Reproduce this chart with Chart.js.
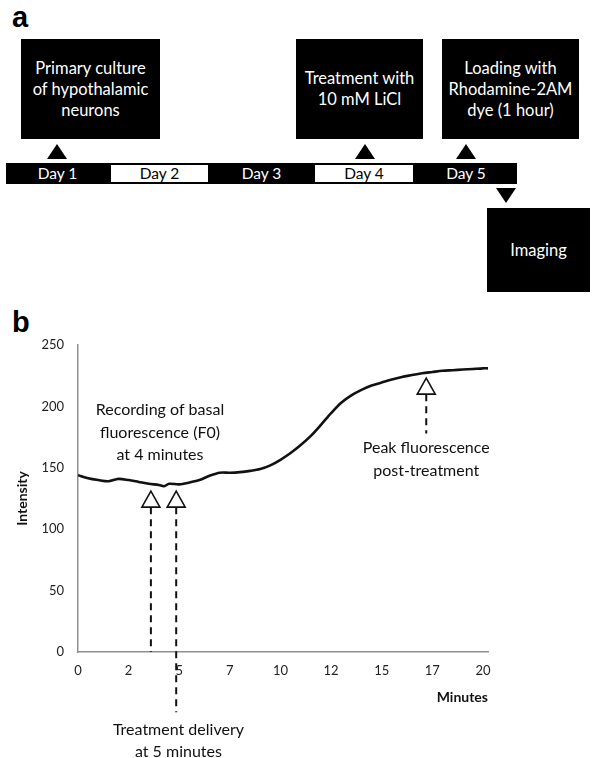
<!DOCTYPE html>
<html lang="en">
<head>
    <meta charset="UTF-8">
    <title>Timeline and fluorescence intensity</title>
    <script src="https://cdn.jsdelivr.net/npm/chart.js"></script>
    <style>
        body {
            margin: 0;
            width: 600px;
            height: 758px;
            background: #fff;
            position: relative;
            overflow: hidden;
            font-family: Lato, "Open Sans", sans-serif;
        }
        .panel-label {
            position: absolute;
            font: bold 29px "Liberation Sans", Arial, sans-serif;
            line-height: 1;
            color: #000;
        }
        .box {
            position: absolute;
            background: #000;
            color: #fff;
            display: flex;
            align-items: center;
            justify-content: center;
            text-align: center;
            font-size: 16.5px;
            line-height: 21px;
        }
        .tri-up, .tri-down {
            position: absolute;
            width: 0;
            height: 0;
            border-left: 10.5px solid transparent;
            border-right: 10.5px solid transparent;
        }
        .tri-up { border-bottom: 15px solid #000; }
        .tri-down { border-top: 15px solid #000; }
        .day {
            position: absolute;
            top: 163px;
            height: 21px;
            box-sizing: border-box;
            font-size: 15.5px;
            line-height: 21px;
            text-align: center;
        }
        .day.dark { background: #000; color: #fff; }
        .day.light { background: #fff; color: #000; border: 2px solid #000; line-height: 17px; }
        #chartWrap {
            position: absolute;
            left: 0;
            top: 300px;
            width: 600px;
            height: 458px;
        }
    </style>
</head>
<body>
    <!-- panel a: culture timeline -->
    <div class="panel-label" style="left:12px;top:3px">a</div>

    <div class="box" style="left:21px;top:39px;width:139px;height:100px">Primary culture<br>of hypothalamic<br>neurons</div>
    <div class="box" style="left:296px;top:39px;width:127px;height:100px">Treatment with<br>10 mM LiCl</div>
    <div class="box" style="left:442px;top:39px;width:137px;height:100px">Loading with<br>Rhodamine-2AM<br>dye (1 hour)</div>
    <div class="box" style="left:487px;top:208px;width:103px;height:84px">Imaging</div>

    <div class="tri-up" style="left:47px;top:144px"></div>
    <div class="tri-up" style="left:355px;top:144px"></div>
    <div class="tri-up" style="left:456px;top:144px"></div>
    <div class="tri-down" style="left:496px;top:188px"></div>

    <div id="days"></div>

    <div class="panel-label" style="left:12px;top:308px">b</div>

    <!-- panel b: intensity trace -->
    <div id="chartWrap">
        <canvas id="traceChart" width="600" height="458"></canvas>
    </div>

    <script>
        // timeline
        const days = ['Day 1', 'Day 2', 'Day 3', 'Day 4', 'Day 5'];
        const dayEdges = [6, 109, 210, 313, 415, 517];

        // trace: minutes vs intensity
        const minutes = [0, 0.5, 1, 1.5, 2, 2.5, 3, 3.5, 4, 4.25, 4.5, 5, 5.5, 6, 6.5, 7, 7.5, 8, 8.5, 9, 9.5,
            10, 10.5, 11, 11.5, 12, 12.5, 13, 13.5, 14, 14.5, 15, 15.5, 16, 16.5, 17, 17.5, 18, 18.5, 19, 19.5, 20, 20.25];
        const intensity = [144, 141.5, 140, 139, 141, 140, 138.5, 137, 136, 135, 137, 136.5, 138, 140, 143.5, 146, 146, 146.5, 147.5, 149, 152,
            156.5, 162, 168.5, 176, 185, 194.5, 203, 209, 213.5, 217, 219.5, 222, 224, 225.5, 227, 228, 229, 229.5, 230, 230.5, 231, 231];

        const xTickValues = [0, 2.5, 5, 7.5, 10, 12.5, 15, 17.5, 20];
        const xTickLabels = ['0', '2', '5', '7', '10', '12', '15', '17', '20'];

        // open arrows: position (minutes), tip (intensity), end of dashed stem (intensity)
        const arrowAt = [3.6, 4.85, 17.2];
        const arrowTip = [131, 131, 223];
        const arrowStemEnd = [0, -49, 178];

        // annotation texts, anchored in data units (centre of first line)
        const noteText = [
            ['Recording of basal', 'fluorescence (F0)', 'at 4 minutes'],
            ['Treatment delivery', 'at 5 minutes'],
            ['Peak fluorescence', 'post-treatment']
        ];
        const noteX = [4.05, 4.96, 17.2];
        const noteY = [197, -63, 166];

        const daysEl = document.getElementById('days');
        days.forEach((d, i) => {
            const el = document.createElement('div');
            el.className = 'day ' + (i % 2 === 0 ? 'dark' : 'light');
            el.style.left = dayEdges[i] + 'px';
            el.style.width = (dayEdges[i + 1] - dayEdges[i]) + 'px';
            el.textContent = d;
            daysEl.appendChild(el);
        });

        const notesPlugin = {
            id: 'notes',
            afterDatasetsDraw(chart) {
                const ctx = chart.ctx;
                const xs = chart.scales.x, ys = chart.scales.y;
                ctx.save();
                arrowAt.forEach((m, i) => {
                    const px = xs.getPixelForValue(m);
                    const tip = ys.getPixelForValue(arrowTip[i]);
                    const base = tip + 16;
                    // dashed stem
                    ctx.beginPath();
                    ctx.setLineDash([7, 5]);
                    ctx.lineWidth = 2;
                    ctx.strokeStyle = '#111';
                    ctx.moveTo(px, base);
                    ctx.lineTo(px, ys.getPixelForValue(arrowStemEnd[i]));
                    ctx.stroke();
                    // open triangle
                    ctx.setLineDash([]);
                    ctx.beginPath();
                    ctx.moveTo(px, tip);
                    ctx.lineTo(px + 9, base);
                    ctx.lineTo(px - 9, base);
                    ctx.closePath();
                    ctx.fillStyle = '#fff';
                    ctx.fill();
                    ctx.lineWidth = 1.6;
                    ctx.stroke();
                });
                ctx.font = '16px Lato, "Open Sans", sans-serif';
                ctx.fillStyle = '#111';
                ctx.textAlign = 'center';
                ctx.textBaseline = 'middle';
                noteText.forEach((lines, i) => {
                    const px = xs.getPixelForValue(noteX[i]);
                    const py = ys.getPixelForValue(noteY[i]);
                    lines.forEach((t, j) => ctx.fillText(t, px, py + j * 22.5));
                });
                ctx.restore();
            }
        };

        const tickFont = { family: 'Lato, "Open Sans", sans-serif', size: 13 };
        const titleFont = { family: 'Lato, "Open Sans", sans-serif', size: 14, weight: 'bold' };

        new Chart(document.getElementById('traceChart'), {
            type: 'line',
            data: {
                datasets: [{
                    data: minutes.map((m, i) => ({ x: m, y: intensity[i] })),
                    borderColor: '#111',
                    borderWidth: 2.6,
                    pointRadius: 0,
                    tension: 0.3,
                    fill: false
                }]
            },
            options: {
                responsive: false,
                animation: false,
                layout: { padding: { left: 0, right: 112, top: 45, bottom: 0 } },
                plugins: {
                    legend: { display: false },
                    tooltip: { enabled: false }
                },
                scales: {
                    x: {
                        type: 'linear',
                        min: 0,
                        max: 20.25,
                        afterBuildTicks: s => { s.ticks = xTickValues.map(v => ({ value: v })); },
                        afterFit: s => { s.height = 106; },
                        grid: { display: false, drawTicks: false },
                        border: { color: '#8f8f8f', width: 1.5 },
                        ticks: {
                            color: '#222',
                            font: tickFont,
                            padding: 11,
                            maxRotation: 0,
                            autoSkip: false,
                            callback: (v, i) => xTickLabels[i]
                        },
                        title: {
                            display: true,
                            text: 'Minutes',
                            align: 'end',
                            color: '#111',
                            font: titleFont,
                            padding: { top: 0, bottom: 52 }
                        }
                    },
                    y: {
                        min: 0,
                        max: 250,
                        afterFit: s => { s.width = 78; },
                        grid: { display: false, drawTicks: false },
                        border: { color: '#8f8f8f', width: 1.5 },
                        ticks: {
                            stepSize: 50,
                            color: '#222',
                            font: tickFont,
                            padding: 14
                        },
                        title: {
                            display: true,
                            text: 'Intensity',
                            color: '#111',
                            font: titleFont,
                            padding: { top: 14, bottom: 0 }
                        }
                    }
                }
            },
            plugins: [notesPlugin]
        });
    </script>
</body>
</html>
